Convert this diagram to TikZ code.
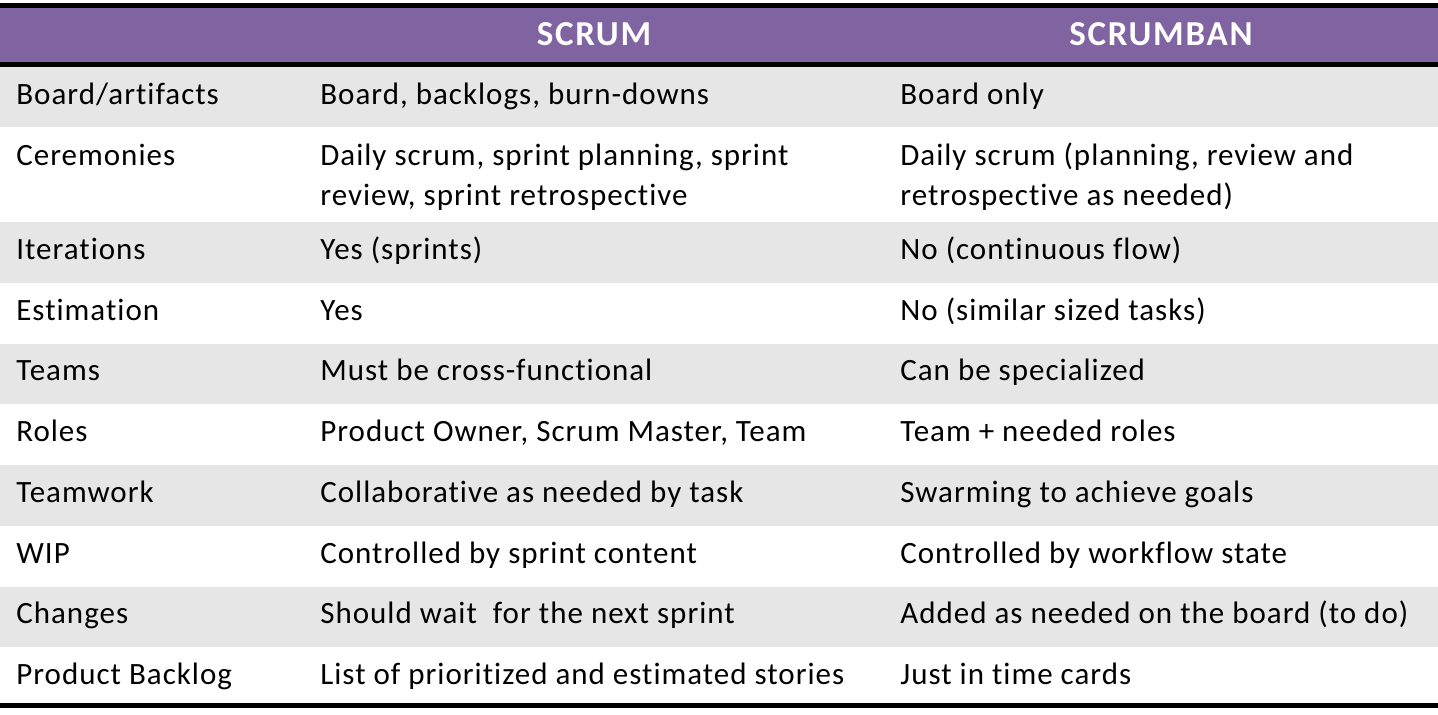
\documentclass[tikz,border=0pt]{standalone}
\usepackage{fontspec}
\setmainfont{Carlito}
\newfontfamily\bodyfont[LetterSpace=3.2,Ligatures=NoCommon]{Carlito}
\newfontfamily\headfont[LetterSpace=5,Ligatures=NoCommon]{Carlito}
\definecolor{headpurple}{HTML}{8064A2}
\definecolor{rowgray}{HTML}{E6E6E6}
\newcommand{\cellfont}{\bodyfont\fontsize{15.5}{20}\selectfont}

\begin{document}
\begin{tikzpicture}[x=0.5pt,y=-0.5pt,
  cell/.style={anchor=base west,inner sep=0pt,font=\cellfont,align=left},
  head/.style={anchor=base,inner sep=0pt,text=white,font=\headfont\fontsize{17.5}{20}\selectfont\bfseries},
  rule/.style={line width=2.5pt,black}]
\useasboundingbox (0,0) rectangle (1438,715);
\fill[headpurple] (0,5.5) rectangle (1438,65);
\fill[rowgray] (0,65) rectangle (1438,127);
\fill[rowgray] (0,222.3) rectangle (1438,283);
\fill[rowgray] (0,343.7) rectangle (1438,404.4);
\fill[rowgray] (0,465.1) rectangle (1438,525.8);
\fill[rowgray] (0,586.5) rectangle (1438,647.2);
\draw[rule] (0,5.5) -- (1438,5.5);
\draw[rule] (0,65) -- (1438,65);
\draw[rule] (0,705.5) -- (1438,705.5);

\node[head] (scrum) at (594,46) {SCRUM};
\node[head] (scrumban) at (1161,46) {SCRUMBAN};

\node[cell] (artifacts) at (16,104.5) {Board/artifacts};
\node[cell] (artifactsA) at (320,104.5) {Board, backlogs, burn-downs};
\node[cell] (artifactsB) at (900,104.5) {Board only};
\node[cell] (ceremonies) at (16,165.5) {Ceremonies};
\node[cell] (ceremoniesA) at (320,205.5) {Daily scrum, sprint planning, sprint\\ review, sprint retrospective};
\node[cell] (ceremoniesB) at (900,205.5) {Daily scrum (planning, review and\\ retrospective as needed)};
\node[cell] (iterations) at (16,259.6) {Iterations};
\node[cell] (iterationsA) at (320,259.6) {Yes (sprints)};
\node[cell] (iterationsB) at (900,259.6) {No (continuous flow)};
\node[cell] (estimation) at (16,320.3) {Estimation};
\node[cell] (estimationA) at (320,320.3) {Yes};
\node[cell] (estimationB) at (900,320.3) {No (similar sized tasks)};
\node[cell] (teams) at (16,381) {Teams};
\node[cell] (teamsA) at (320,381) {Must be cross-functional};
\node[cell] (teamsB) at (900,381) {Can be specialized};
\node[cell] (roles) at (16,441.7) {Roles};
\node[cell] (rolesA) at (320,441.7) {Product Owner, Scrum Master, Team};
\node[cell] (rolesB) at (900,441.7) {Team + needed roles};
\node[cell] (teamwork) at (16,502.4) {Teamwork};
\node[cell] (teamworkA) at (320,502.4) {Collaborative as needed by task};
\node[cell] (teamworkB) at (900,502.4) {Swarming to achieve goals};
\node[cell] (wip) at (16,563.1) {WIP};
\node[cell] (wipA) at (320,563.1) {Controlled by sprint content};
\node[cell] (wipB) at (900,563.1) {Controlled by workflow state};
\node[cell] (changes) at (16,623.8) {Changes};
\node[cell] (changesA) at (320,623.8) {Should wait\ \ for the next sprint};
\node[cell] (changesB) at (900,623.8) {Added as needed on the board (to do)};
\node[cell] (backlog) at (16,684.5) {Product Backlog};
\node[cell] (backlogA) at (320,684.5) {List of prioritized and estimated stories};
\node[cell] (backlogB) at (900,684.5) {Just in time cards};
\end{tikzpicture}
\end{document}
